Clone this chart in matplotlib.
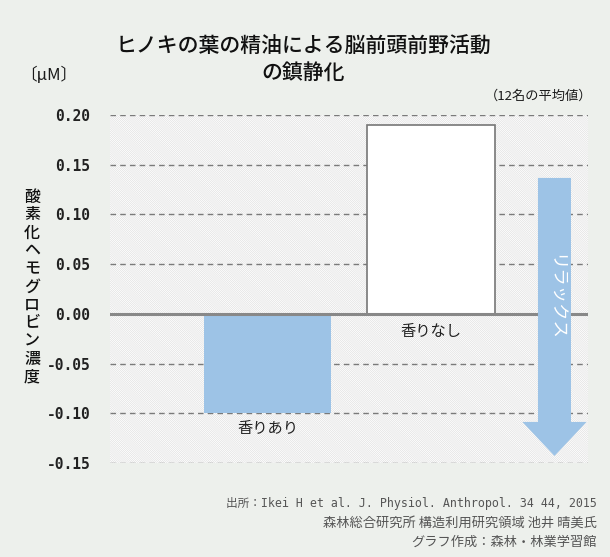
import matplotlib
matplotlib.use("Agg")
import matplotlib.pyplot as plt
from matplotlib.patches import FancyArrow, Rectangle

# ---- data ----
categories = ["香りあり", "香りなし"]
values = [-0.10, 0.19]
bar_colors = ["#9dc3e6", "#ffffff"]
yticks = [0.20, 0.15, 0.10, 0.05, 0.00, -0.05, -0.10, -0.15]
ytick_labels = ["0.20", "0.15", "0.10", "0.05", "0.00", "-0.05", "-0.10", "-0.15"]

title_lines = ["ヒノキの葉の精油による脳前頭前野活動", "の鎮静化"]
unit_label = "〔μM〕"
note_label = "（12名の平均値）"
ylabel_text = "酸素化ヘモグロビン濃度"
arrow_text = "リラックス"
source_lines = [
    "出所：Ikei H et al. J. Physiol. Anthropol. 34 44, 2015",
    "森林総合研究所 構造利用研究領域 池井 晴美氏",
    "グラフ作成：森林・林業学習館",
]

JP = ["Noto Sans CJK JP", "DejaVu Sans"]
plt.rcParams["font.family"] = JP
plt.rcParams["hatch.linewidth"] = 0.3
plt.rcParams["hatch.color"] = "#d4d4d4"

W, H = 610, 557
fig = plt.figure(figsize=(W / 100, H / 100), dpi=100, facecolor="#edf0ec")


def px(x, y):
    return (x / W, 1 - y / H)


ax_l, ax_r, ax_t, ax_b = 110, 588, 115, 463
ax = fig.add_axes([ax_l / W, 1 - ax_b / H, (ax_r - ax_l) / W, (ax_b - ax_t) / H])
ax.set_facecolor("#fdfdfd")
for s in ax.spines.values():
    s.set_visible(False)

# hatch background
ax.add_patch(Rectangle((0, 0), 1, 1, transform=ax.transAxes, facecolor="#fdfdfd",
                       edgecolor="#d4d4d4", hatch="\\" * 16, linewidth=0, zorder=0))

x = list(range(len(categories)))
ax.set_xlim(-0.963, 1.960)
ax.set_ylim(-0.15, 0.20)

# grid lines
for t in yticks:
    if t == 0:
        continue
    ax.axhline(t, color="#7a7a7a", linewidth=1.0, linestyle=(0, (4, 3)), zorder=1)

bars = ax.bar(x, values, width=0.777, color=bar_colors, zorder=2,
              edgecolor=["none", "#777777"], linewidth=[0, 1.2])

ax.axhline(0, color="#888888", linewidth=2.2, zorder=3)

# bar labels
ax.text(0, values[0] - 0.0155, categories[0], ha="center", va="center", fontsize=11, color="#222222", zorder=4)
ax.text(1, -0.0175, categories[1], ha="center", va="center", fontsize=11, color="#222222", zorder=4)

# ticks
ax.set_xticks([])
ax.set_yticks(yticks)
ax.set_yticklabels(ytick_labels, family="DejaVu Sans Mono", fontweight="bold", fontsize=10.5, color="#222222")
ax.tick_params(axis="y", length=0, pad=14)

# relax arrow
ax.add_patch(FancyArrow(1.755, 0.1367, 0, -0.2796, width=0.202, head_width=0.392,
                        head_length=0.0342, length_includes_head=True,
                        color="#9dc3e6", linewidth=0, zorder=5))
ax.text(1.755, 0.017, arrow_text, rotation=-90, ha="center", va="center",
        fontsize=12.5, color="white", zorder=6)

# titles
fig.text(*px(303, 47), title_lines[0], ha="center", va="center", fontsize=15, fontweight="medium", color="#111111")
fig.text(*px(303, 73), title_lines[1], ha="center", va="center", fontsize=15, fontweight="medium", color="#111111")
fig.text(*px(20, 75), unit_label, ha="left", va="center", fontsize=12, color="#1a1a1a")
fig.text(*px(592, 96), note_label, ha="right", va="center", fontsize=9.5, color="#1a1a1a")

# vertical y label
for i, ch in enumerate(ylabel_text):
    fig.text(*px(32, 197 + i * 18), ch, ha="center", va="center", fontsize=11.5, fontweight="medium", color="#111111")

# source
fig.text(*px(597, 503), source_lines[0], ha="right", va="center", fontsize=8.4,
         family=["DejaVu Sans Mono", "Noto Sans CJK JP"], color="#555555")
fig.text(*px(597, 523), source_lines[1], ha="right", va="center", fontsize=9.5, color="#555555")
fig.text(*px(597, 542), source_lines[2], ha="right", va="center", fontsize=9.5, color="#555555")

fig.savefig("out.png", dpi=100, facecolor=fig.get_facecolor())
